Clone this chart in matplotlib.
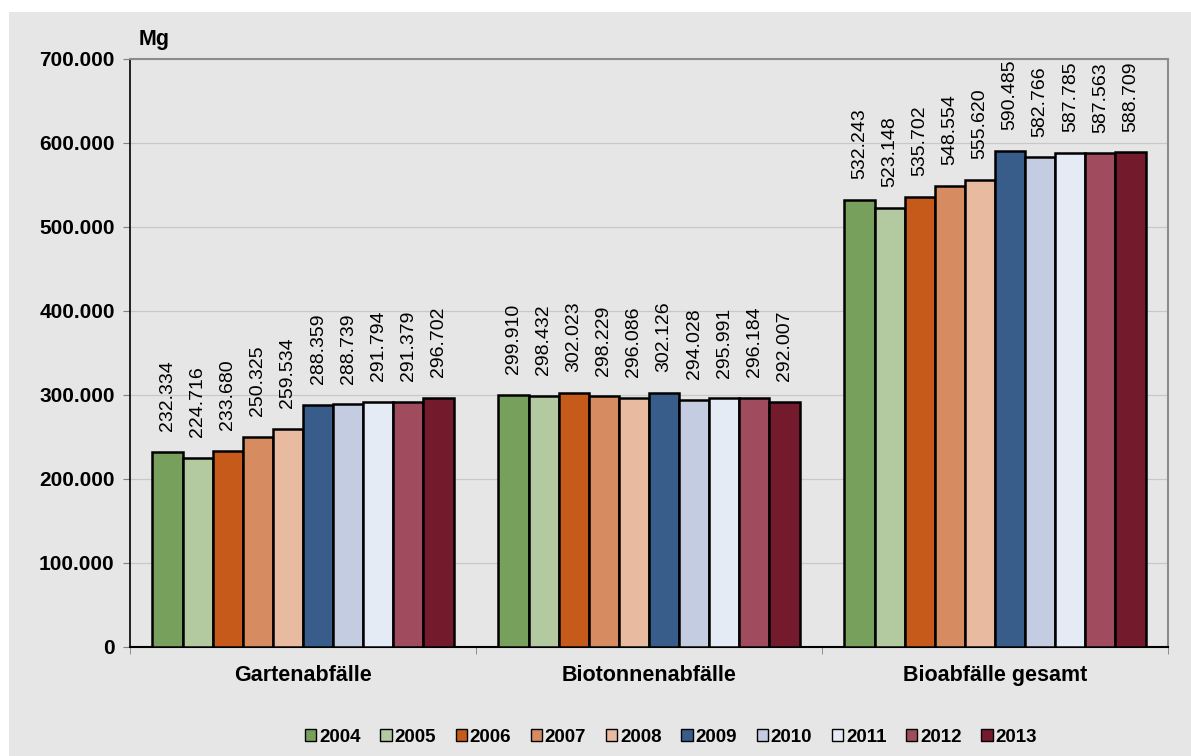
import numpy as np
import matplotlib
matplotlib.use("Agg")
import matplotlib.pyplot as plt
from matplotlib.patches import Rectangle

plt.rcParams['font.family'] = ['Liberation Sans', 'DejaVu Sans']

categories = ['Gartenabfälle', 'Biotonnenabfälle', 'Bioabfälle gesamt']
years = ['2004', '2005', '2006', '2007', '2008', '2009', '2010', '2011', '2012', '2013']
garten = [232334, 224716, 233680, 250325, 259534, 288359, 288739, 291794, 291379, 296702]
biotonne = [299910, 298432, 302023, 298229, 296086, 302126, 294028, 295991, 296184, 292007]
gesamt = [532243, 523148, 535702, 548554, 555620, 590485, 582766, 587785, 587563, 588709]
colors = ['#77a05d', '#b3c9a0', '#c55a1b', '#d78b60', '#e8bba1',
          '#385d8a', '#c3cce0', '#e4ebf5', '#a04c5e', '#741a2d']

values = np.array([garten, biotonne, gesamt])
bg = '#e6e6e6'

fig = plt.figure(figsize=(11.91, 7.56), dpi=100)
fig.patch.set_facecolor('white')
fig.add_artist(Rectangle((9 / 1191, 0), 1, 1 - 12 / 756, transform=fig.transFigure,
                         facecolor=bg, edgecolor='none', zorder=-10))
ax = fig.add_axes([130 / 1191, 1 - 647 / 756, 1038 / 1191, 588 / 756])
ax.set_facecolor(bg)

x = np.arange(len(categories))
w = 0.087
for i, yr in enumerate(years):
    pos = x - 5 * w + (i + 0.5) * w
    bars = ax.bar(pos, values[:, i], width=w, color=colors[i], edgecolor='black',
                  linewidth=1.8, label=yr, zorder=3)
    for b, v in zip(bars, values[:, i]):
        ax.annotate(f"{v:,}".replace(",", "."), (b.get_x() + b.get_width() / 2, v),
                    xytext=(0, 15), textcoords='offset points', rotation=90,
                    ha='center', va='bottom', fontsize=14, zorder=4)

ax.set_xlim(-0.5, 2.5)
ax.set_ylim(0, 700000)
ax.set_yticks(np.arange(0, 700001, 100000))
ax.set_yticklabels([f"{v:,}".replace(",", ".") for v in range(0, 700001, 100000)],
                   fontsize=15, fontweight='bold')
ax.yaxis.grid(True, color='#c8c8c8', linewidth=0.9, zorder=0)
ax.set_axisbelow(True)
ax.tick_params(axis='y', direction='out', length=5, color='#808080', pad=6)

ax.set_xticks(x)
ax.set_xticklabels(categories, fontsize=15.5, fontweight='bold')
ax.tick_params(axis='x', length=0, pad=13)
ax.set_xticks([-0.5, 0.5, 1.5, 2.5], minor=True)
ax.tick_params(axis='x', which='minor', direction='out', length=5, color='#808080')

ax.spines['left'].set_color('black')
ax.spines['bottom'].set_color('black')
ax.spines['bottom'].set_linewidth(1.5)
ax.spines['left'].set_linewidth(1.2)
ax.spines['top'].set_color('#8c8c8c')
ax.spines['right'].set_color('#8c8c8c')
ax.spines['top'].set_linewidth(1.5)
ax.spines['right'].set_linewidth(1.5)

fig.text(139 / 1191, 1 - 40 / 756, 'Mg', fontsize=15.5, fontweight='bold', va='center')

leg = fig.legend(loc='center', bbox_to_anchor=(671 / 1191, 1 - 737 / 756), ncol=10,
                 frameon=False, handlelength=0.6, handleheight=0.6, handletextpad=0.15,
                 columnspacing=1.05, prop={'weight': 'bold', 'size': 13.5})
for h in leg.legend_handles:
    h.set_linewidth(1.0)

fig.savefig('out.png', dpi=100, facecolor=fig.get_facecolor())
